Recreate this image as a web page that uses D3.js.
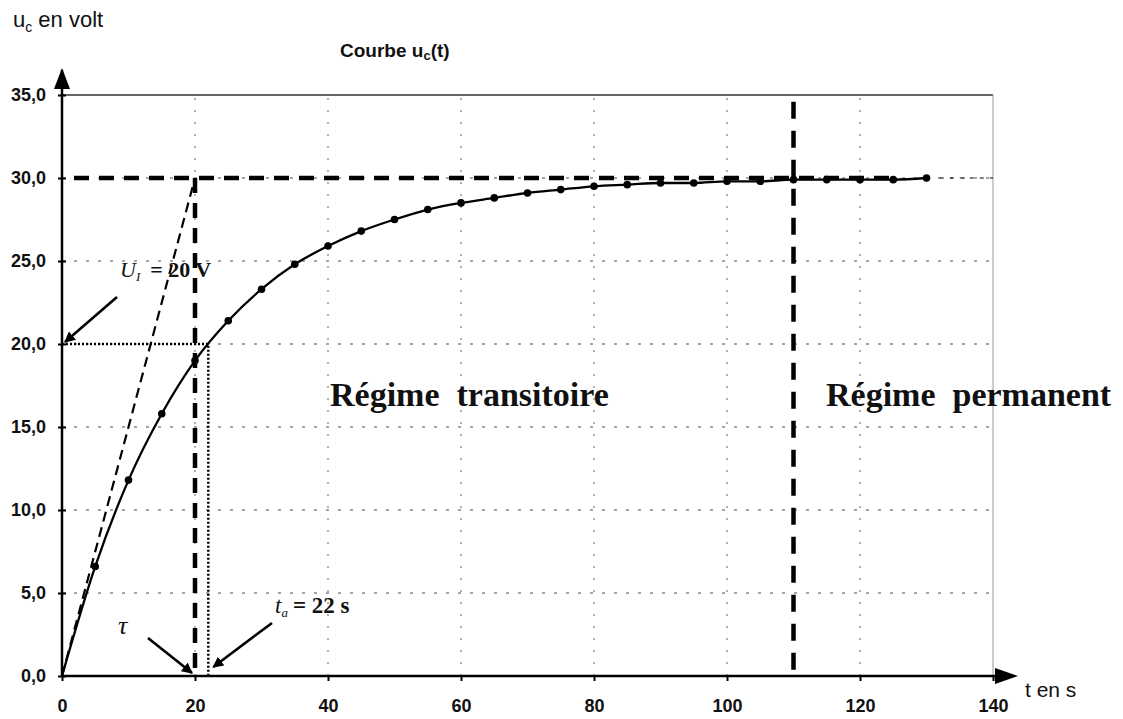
<!DOCTYPE html>
<html>
<head>
<meta charset="utf-8">
<script src="https://cdn.jsdelivr.net/npm/d3@7"></script>
<style>
  body { margin: 0; background: #fff; }
  svg { display: block; }
  .tick text { font-family: "Liberation Sans", Arial, sans-serif; font-weight: bold; font-size: 18px; fill: #111; }
</style>
</head>
<body>
<div id="chart"></div>
<script>
// ---- data ----
const times = [0, 5, 10, 15, 20, 25, 30, 35, 40, 45, 50, 55, 60, 65, 70, 75, 80, 85, 90, 95, 100, 105, 110, 115, 120, 125, 130];
const voltages = [0, 6.6, 11.8, 15.8, 19.0, 21.4, 23.3, 24.8, 25.9, 26.8, 27.5, 28.1, 28.5, 28.8, 29.1, 29.3, 29.5, 29.6, 29.7, 29.7, 29.8, 29.8, 29.9, 29.9, 29.9, 29.9, 30.0];
const xTicks = [0, 20, 40, 60, 80, 100, 120, 140];
const yTicks = [0, 5, 10, 15, 20, 25, 30, 35];

const E = 30;      // asymptote
const tau = 20;    // time constant
const tA = 22;     // time read at U1
const U1 = 20;
const tPerm = 110; // start of steady state

const W = 1123, H = 719;

const svg = d3.select("#chart").append("svg")
    .attr("width", W).attr("height", H);

const x = d3.scaleLinear().domain([0, 140]).range([62, 993]);
const y = d3.scaleLinear().domain([0, 35]).range([676, 95]);

const serif = "'Liberation Serif', 'Times New Roman', serif";
const sans = "'Liberation Sans', Arial, sans-serif";

const defs = svg.append("defs");
defs.append("marker")
    .attr("id", "arrow").attr("viewBox", "0 0 10 10")
    .attr("refX", 9).attr("refY", 5)
    .attr("markerWidth", 4.2).attr("markerHeight", 4.2)
    .attr("orient", "auto")
  .append("path").attr("d", "M0,0L10,5L0,10z").attr("fill", "#000");

// grid
svg.append("g").selectAll("line")
    .data(yTicks.filter(d => d > 0 && d < 35))
    .enter().append("line")
    .attr("x1", x(0)).attr("x2", x(140))
    .attr("y1", d => y(d)).attr("y2", d => y(d))
    .attr("stroke", "#888").attr("stroke-width", 1.3)
    .attr("stroke-dasharray", "3,9");

svg.append("g").selectAll("line")
    .data(xTicks.filter(d => d > 0 && d < 140))
    .enter().append("line")
    .attr("x1", d => x(d)).attr("x2", d => x(d))
    .attr("y1", y(0)).attr("y2", y(35))
    .attr("stroke", "#888").attr("stroke-width", 1.3)
    .attr("stroke-dasharray", "2,10");

// frame: top and right
svg.append("line")
    .attr("x1", x(0)).attr("x2", x(140)).attr("y1", y(35)).attr("y2", y(35))
    .attr("stroke", "#333").attr("stroke-width", 1.5);
svg.append("line")
    .attr("x1", x(140)).attr("x2", x(140)).attr("y1", y(35)).attr("y2", y(0))
    .attr("stroke", "#999").attr("stroke-width", 1);

// axes
const yAxis = svg.append("g")
    .attr("transform", `translate(${x(0)},0)`)
    .call(d3.axisLeft(y).tickValues(yTicks).tickSize(5).tickPadding(11)
        .tickFormat(d => d.toFixed(1).replace(".", ",")));
yAxis.select(".domain").remove();
yAxis.selectAll(".tick line").attr("stroke", "#000").attr("stroke-width", 2).attr("x2", 4).attr("x1", -4);

const xAxis = svg.append("g")
    .attr("transform", `translate(0,${y(0)})`)
    .call(d3.axisBottom(x).tickValues(xTicks).tickSize(5).tickPadding(18)
        .tickFormat(d3.format("d")));
xAxis.select(".domain").remove();
xAxis.selectAll(".tick line").attr("stroke", "#000").attr("stroke-width", 2);

svg.append("line")
    .attr("x1", x(0)).attr("x2", x(0)).attr("y1", y(0)).attr("y2", 70)
    .attr("stroke", "#000").attr("stroke-width", 2.5);
svg.append("path")
    .attr("d", `M${x(0)},68L${x(0) - 8},89L${x(0) + 8},89Z`).attr("fill", "#000");
svg.append("line")
    .attr("x1", x(0)).attr("x2", 1000).attr("y1", y(0)).attr("y2", y(0))
    .attr("stroke", "#000").attr("stroke-width", 2.5);
svg.append("path")
    .attr("d", `M1018,${y(0)}L995,${y(0) - 8}L995,${y(0) + 8}Z`).attr("fill", "#000");

// construction lines
svg.append("line") // asymptote
    .attr("x1", x(0) + 12).attr("x2", x(125)).attr("y1", y(E)).attr("y2", y(E))
    .attr("stroke", "#000").attr("stroke-width", 4.5).attr("stroke-dasharray", "15,10");
svg.append("line") // tau vertical
    .attr("x1", x(tau)).attr("x2", x(tau)).attr("y1", y(E)).attr("y2", y(0))
    .attr("stroke", "#000").attr("stroke-width", 4.5).attr("stroke-dasharray", "15,10");
svg.append("line") // regime boundary
    .attr("x1", x(tPerm)).attr("x2", x(tPerm)).attr("y1", y(34.6)).attr("y2", y(0))
    .attr("stroke", "#000").attr("stroke-width", 4.5).attr("stroke-dasharray", "17,12");
svg.append("line") // tangent at origin
    .attr("x1", x(0)).attr("x2", x(tau)).attr("y1", y(0)).attr("y2", y(E))
    .attr("stroke", "#000").attr("stroke-width", 2.2).attr("stroke-dasharray", "10,6");
svg.append("path") // U1 reading
    .attr("d", `M${x(0)},${y(U1)}H${x(tA)}V${y(0)}`)
    .attr("fill", "none").attr("stroke", "#000").attr("stroke-width", 2.5)
    .attr("stroke-dasharray", "2,2");

// curve
const pts = times.map((t, i) => [t, voltages[i]]);
const line = d3.line().x(d => x(d[0])).y(d => y(d[1])).curve(d3.curveMonotoneX);
svg.append("path").datum(pts)
    .attr("d", line).attr("fill", "none").attr("stroke", "#000").attr("stroke-width", 2.3);
svg.append("line") // dotted continuation
    .attr("x1", x(132)).attr("x2", x(140)).attr("y1", y(30)).attr("y2", y(30))
    .attr("stroke", "#000").attr("stroke-width", 1.2).attr("stroke-dasharray", "4,6");
svg.append("g").selectAll("circle")
    .data(pts.slice(1))
    .enter().append("circle")
    .attr("cx", d => x(d[0])).attr("cy", d => y(d[1])).attr("r", 3.8)
    .attr("fill", "#000");

// annotation arrows
function arrow(x1, y1, x2, y2) {
    svg.append("line")
        .attr("x1", x1).attr("y1", y1).attr("x2", x2).attr("y2", y2)
        .attr("stroke", "#000").attr("stroke-width", 2.6)
        .attr("marker-end", "url(#arrow)");
}
arrow(117, 297, x(0) + 3, y(U1) - 2);
arrow(148, 638, x(tau) - 3, y(0) - 3);
arrow(272, 623, x(tA) + 5, y(0) - 9);

// texts
const t1 = svg.append("text").attr("x", 13).attr("y", 27)
    .style("font-family", sans).style("font-size", "22px").style("fill", "#111");
t1.append("tspan").text("u");
t1.append("tspan").style("font-size", "14px").attr("dy", 5).text("c");
t1.append("tspan").attr("dy", -5).text(" en volt");

const t2 = svg.append("text").attr("x", 340).attr("y", 57)
    .style("font-family", sans).style("font-size", "19px").style("font-weight", "bold").style("fill", "#111");
t2.append("tspan").text("Courbe u");
t2.append("tspan").style("font-size", "13px").attr("dy", 3).text("c");
t2.append("tspan").attr("dy", -3).text("(t)");

svg.append("text").attr("x", 1025).attr("y", 697)
    .style("font-family", sans).style("font-size", "21px").style("fill", "#111")
    .text("t en s");

function serifText(xp, yp, size) {
    return svg.append("text").attr("x", xp).attr("y", yp)
        .style("font-family", serif).style("font-size", size + "px")
        .style("font-weight", "bold").style("fill", "#111");
}

const u = serifText(120, 277, 22);
u.append("tspan").style("font-style", "italic").style("font-weight", "normal").text("U");
u.append("tspan").style("font-style", "italic").style("font-weight", "normal").style("font-size", "13px").attr("dy", 4).text("I");
u.append("tspan").attr("dy", -4).attr("dx", 10).text("= 20 V");

serifText(118, 634, 26).style("font-style", "italic").style("font-weight", "normal").text("τ");

const ta = serifText(275, 613, 23);
ta.append("tspan").style("font-style", "italic").style("font-weight", "normal").text("t");
ta.append("tspan").style("font-style", "italic").style("font-weight", "normal").style("font-size", "13px").attr("dy", 4).text("a");
ta.append("tspan").attr("dy", -4).attr("dx", 5).text("= 22 s");

serifText(330, 406, 34).style("white-space", "pre").text("Régime  transitoire");
serifText(826, 406, 34).style("white-space", "pre").text("Régime  permanent");
</script>
</body>
</html>
